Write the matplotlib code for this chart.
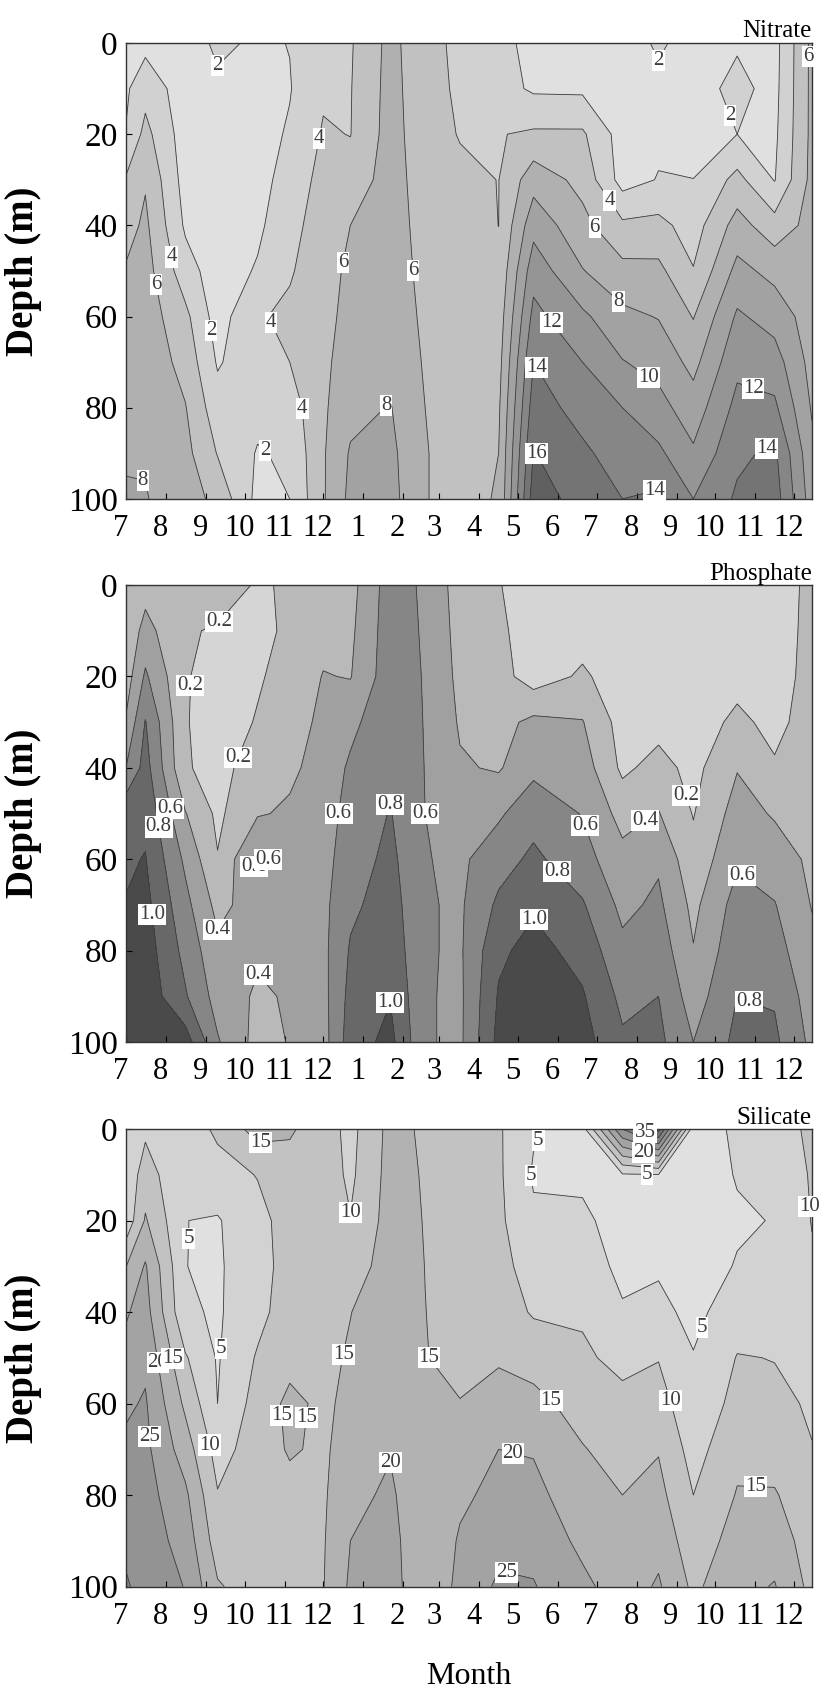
import numpy as np
import matplotlib
matplotlib.use("Agg")
import matplotlib.pyplot as plt
from matplotlib.transforms import ScaledTranslation

plt.rcParams['font.family'] = ['Liberation Serif', 'DejaVu Serif']

# ---- sampling grid (days since 1 July of first year; depth in m) ----
days = [0, 15, 46, 71, 102, 127, 153, 174, 205, 232, 259, 289, 316, 354, 385, 413, 440, 474, 503, 532]
depths = [0, 10, 20, 30, 40, 50, 60, 70, 80, 90, 100]

month_start_days = [0, 31, 62, 92, 123, 153, 184, 215, 243, 274, 304, 335, 365, 396, 427, 457, 488, 518]
month_labels = ['7', '8', '9', '10', '11', '12', '1', '2', '3', '4', '5', '6',
                '7', '8', '9', '10', '11', '12']
depth_ticks = [0, 20, 40, 60, 80, 100]

# ---- profiles (one list per sampling day, values at the depths above) ----
nitrate_profiles = [
    [1.2, 1.7, 2.1, 4.2, 5.2, 6.2, 6.6, 7.0, 7.4, 7.8, 8.2],
    [1.4, 3.3, 4.6, 5.8, 6.4, 6.8, 7.1, 7.4, 7.6, 7.85, 8.1],
    [0.9, 0.9, 1.0, 1.2, 1.7, 2.9, 4.5, 5.3, 6.1, 6.6, 7.0],
    [2.4, 1.6, 1.2, 1.0, 0.9, 0.9, 1.1, 1.8, 2.8, 3.9, 5.4],
    [1.7, 1.5, 1.3, 1.2, 1.6, 2.2, 3.8, 3.3, 2.6, 1.85, 1.44],
    [2.05, 1.9, 2.2, 2.9, 3.4, 3.8, 4.4, 4.0, 3.0, 2.3, 2.0],
    [3.4, 3.7, 4.2, 4.6, 4.9, 5.2, 5.4, 5.6, 5.7, 5.8, 5.8],
    [3.8, 3.9, 3.95, 4.8, 6.0, 6.4, 6.6, 6.9, 7.4, 8.2, 8.5],
    [6.6, 6.7, 6.8, 6.9, 7.0, 7.1, 7.3, 7.6, 8.1, 8.5, 8.7],
    [4.6, 4.7, 4.8, 5.0, 5.2, 5.4, 5.6, 5.8, 6.0, 6.1, 6.1],
    [3.6, 3.7, 3.9, 4.4, 4.7, 4.9, 5.0, 5.1, 5.1, 5.2, 5.2],
    [2.4, 2.8, 3.9, 3.97, 3.99, 4.4, 4.9, 5.3, 5.7, 6.0, 6.2],
    [1.6, 1.7, 4.3, 7.2, 9.3, 11.2, 12.6, 14.0, 15.0, 16.1, 17.0],
    [1.5, 1.63, 4.3, 5.4, 6.6, 8.1, 10.4, 12.0, 13.2, 14.4, 15.2],
    [1.0, 1.05, 1.1, 1.2, 4.4, 6.6, 8.5, 10.1, 12.0, 13.0, 14.0],
    [2.3, 1.5, 1.6, 2.1, 4.6, 6.5, 7.9, 9.3, 10.7, 12.4, 14.4],
    [1.2, 1.25, 1.3, 2.02, 3.1, 4.1, 5.9, 7.4, 8.9, 10.3, 12.0],
    [1.8, 2.5, 2.0, 4.6, 6.8, 8.6, 10.3, 11.5, 12.6, 13.6, 14.3],
    [1.3, 1.4, 1.6, 1.9, 4.8, 7.4, 9.2, 10.9, 12.4, 14.4, 15.0],
    [6.5, 6.5, 6.5, 6.6, 6.7, 6.8, 7.0, 7.3, 7.8, 8.5, 9.0],
]

phosphate_profiles = [
    [0.22, 0.25, 0.3, 0.42, 0.6, 0.95, 0.97, 1.01, 1.05, 1.1, 1.15],
    [0.32, 0.47, 0.63, 0.81, 0.88, 0.95, 1.01, 1.06, 1.1, 1.13, 1.15],
    [0.21, 0.21, 0.21, 0.21, 0.22, 0.41, 0.56, 0.66, 0.74, 0.82, 1.1],
    [0.25, 0.19, 0.15, 0.13, 0.13, 0.16, 0.21, 0.34, 0.45, 0.52, 0.62],
    [0.19, 0.17, 0.185, 0.21, 0.3, 0.38, 0.66, 0.5, 0.43, 0.37, 0.33],
    [0.21, 0.22, 0.25, 0.3, 0.36, 0.43, 0.48, 0.5, 0.45, 0.42, 0.41],
    [0.3, 0.33, 0.41, 0.45, 0.48, 0.51, 0.53, 0.55, 0.55, 0.54, 0.52],
    [0.33, 0.36, 0.39, 0.55, 0.63, 0.67, 0.71, 0.76, 0.82, 0.86, 0.9],
    [0.7, 0.71, 0.72, 0.74, 0.76, 0.81, 0.85, 0.89, 0.93, 0.99, 1.06],
    [0.565, 0.575, 0.585, 0.59, 0.595, 0.6, 0.61, 0.62, 0.62, 0.62, 0.62],
    [0.31, 0.33, 0.35, 0.38, 0.42, 0.5, 0.56, 0.57, 0.57, 0.56, 0.56],
    [0.21, 0.24, 0.28, 0.33, 0.38, 0.57, 0.72, 0.84, 0.96, 1.02, 1.06],
    [0.1, 0.1, 0.1, 0.45, 0.55, 0.73, 0.84, 0.97, 1.07, 1.12, 1.15],
    [0.1, 0.12, 0.23, 0.41, 0.5, 0.59, 0.68, 0.82, 0.93, 1.02, 1.08],
    [0.1, 0.1, 0.1, 0.12, 0.16, 0.33, 0.46, 0.55, 0.65, 0.75, 0.83],
    [0.1, 0.1, 0.11, 0.13, 0.27, 0.41, 0.57, 0.64, 0.72, 0.80, 0.85],
    [0.1, 0.1, 0.1, 0.11, 0.14, 0.19, 0.26, 0.35, 0.41, 0.5, 0.6],
    [0.1, 0.1, 0.14, 0.24, 0.39, 0.48, 0.57, 0.68, 0.74, 0.8, 0.85],
    [0.1, 0.1, 0.11, 0.15, 0.22, 0.38, 0.5, 0.61, 0.68, 0.78, 0.84],
    [0.25, 0.26, 0.27, 0.28, 0.3, 0.33, 0.36, 0.39, 0.45, 0.5, 0.55],
]

silicate_profiles = [
    [6.0, 6.2, 6.5, 14.9, 19.5, 21.5, 24.2, 26.0, 27.5, 29.0, 30.5],
    [9.0, 12.5, 15.5, 20.5, 22.0, 24.0, 25.5, 26.2, 27.0, 27.7, 28.3],
    [7.0, 5.1, 5.05, 5.05, 5.8, 10.5, 14.0, 17.5, 21.0, 23.0, 24.8],
    [11.0, 8.0, 4.6, 4.4, 4.4, 4.6, 5.0, 8.0, 10.3, 12.5, 15.5],
    [17.0, 10.2, 8.5, 8.0, 8.5, 10.5, 12.0, 12.5, 12.5, 12.5, 12.5],
    [15.6, 13.0, 12.0, 12.0, 12.5, 13.5, 16.2, 15.5, 13.5, 13.0, 13.0],
    [12.5, 12.8, 13.0, 13.2, 13.5, 13.8, 14.0, 14.2, 14.4, 14.6, 14.8],
    [8.5, 9.0, 10.2, 12.5, 14.9, 15.5, 16.3, 17.3, 18.4, 20.0, 20.8],
    [16.5, 16.8, 17.0, 17.3, 17.6, 18.0, 18.5, 19.6, 21.0, 22.0, 22.5],
    [14.3, 14.6, 14.8, 14.95, 15.05, 15.1, 15.1, 15.1, 15.1, 15.2, 15.2],
    [12.5, 12.8, 13.0, 13.2, 13.5, 14.2, 15.1, 16.8, 19.0, 20.6, 21.5],
    [10.6, 10.8, 11.0, 11.5, 12.5, 14.5, 16.8, 20.0, 21.5, 23.5, 25.8],
    [5.5, 4.5, 5.8, 8.0, 9.5, 13.0, 16.5, 19.6, 21.5, 23.5, 25.3],
    [3.0, 4.3, 5.7, 7.5, 9.3, 10.9, 13.0, 15.3, 16.8, 18.8, 21.2],
    [30.0, 4.5, 3.5, 3.8, 5.5, 8.5, 11.5, 13.0, 15.0, 16.5, 17.5],
    [42.0, 4.8, 3.5, 4.3, 6.5, 9.8, 12.0, 14.7, 16.5, 18.5, 20.6],
    [2.0, 2.3, 2.5, 2.8, 3.5, 5.3, 6.5, 8.0, 10.0, 12.0, 14.0],
    [6.0, 5.3, 4.4, 5.3, 8.0, 10.2, 11.5, 13.8, 15.3, 17.0, 18.5],
    [6.5, 5.5, 5.2, 5.8, 7.0, 9.9, 10.8, 12.5, 15.5, 17.8, 20.3],
    [11.5, 10.6, 10.2, 9.4, 9.0, 9.2, 9.6, 10.1, 11.0, 12.5, 13.5],
]

nitrate_levels = [0, 2, 4, 6, 8, 10, 12, 14, 16, 18]
phosphate_levels = [0.0, 0.2, 0.4, 0.6, 0.8, 1.0, 1.2]
silicate_levels = [0, 5, 10, 15, 20, 25, 30, 35, 40, 45]

nitrate_colors = ['#e0e0e0', '#d1d1d1', '#c1c1c1', '#b0b0b0', '#a2a2a2',
                  '#959595', '#868686', '#747474', '#606060']
phosphate_colors = ['#d5d5d5', '#b9b9b9', '#a0a0a0', '#868686', '#686868', '#4a4a4a']
silicate_colors = ['#e0e0e0', '#d2d2d2', '#c2c2c2', '#b2b2b2', '#a3a3a3',
                   '#939393', '#838383', '#707070', '#5e5e5e']

# label anchor positions (day, depth)
nitrate_label_pos = [(73, 6), (149, 21), (34, 47), (22, 53), (166, 48), (218, 50),
                     (65, 63), (107, 62), (141, 80), (112, 88), (199, 79), (13, 96),
                     (414, 6), (467, 16), (530, 3), (373, 35), (361, 41), (384, 56),
                     (331, 61), (319, 71), (404, 74), (486, 76), (318, 90), (495, 88),
                     (408, 96)]
phosphate_label_pos = [(77, 9), (47, 22), (90, 38), (34, 49), (24, 53), (94, 62),
                       (116, 60), (22, 72), (77, 77), (112, 83), (167, 50), (205, 44),
                       (234, 50), (205, 88), (353, 53), (337, 62), (317, 73), (401, 51),
                       (435, 46), (479, 63), (489, 87)]
silicate_label_pos = [(104, 2), (46, 24), (171, 20), (73, 48), (25, 51), (38, 50),
                      (165, 49), (233, 50), (108, 63), (137, 63), (24, 67), (66, 69),
                      (203, 70), (402, 1), (402, 4.5), (404, 9.5), (329, 3.6), (307, 10.5),
                      (530, 17), (444, 43), (334, 58), (426, 59), (300, 71), (489, 74),
                      (295, 97)]

panels = [
    ('Nitrate', nitrate_profiles, nitrate_levels, nitrate_colors, '%d',
     nitrate_label_pos, [0.1533, 0.7053, 0.8345, 0.2693]),
    ('Phosphate', phosphate_profiles, phosphate_levels, phosphate_colors, '%.1f',
     phosphate_label_pos, [0.1533, 0.3845, 0.8345, 0.2699]),
    ('Silicate', silicate_profiles, silicate_levels, silicate_colors, '%d',
     silicate_label_pos, [0.1533, 0.0629, 0.8345, 0.2702]),
]

fig = plt.figure(figsize=(8.22, 16.93), dpi=100)

for i, (name, profiles, levels, colors, fmt, lpos, rect) in enumerate(panels):
    ax = fig.add_axes(rect)
    Z = np.array(profiles).T
    ax.contourf(days, depths, Z, levels=levels, colors=colors)
    cs = ax.contour(days, depths, Z, levels=levels, colors='#3c3c3c', linewidths=0.6)
    texts = ax.clabel(cs, manual=lpos, inline=False, fmt=fmt, fontsize=15)
    for t in texts:
        t.set_rotation(0)
        t.set_bbox(dict(facecolor='white', edgecolor='none', pad=0.8))
        t.set_zorder(5)
        t.set_clip_on(False)
    ax.set_xlim(0, 532)
    ax.set_ylim(100, 0)
    ax.set_xticks(month_start_days)
    ax.set_xticklabels(month_labels)
    ax.set_yticks(depth_ticks)
    ax.tick_params(axis='x', direction='in', length=4, width=0.8, labelsize=22, pad=11,
                   top=False)
    ax.tick_params(axis='y', direction='in', length=4, width=0.8, labelsize=24, pad=6,
                   right=False)
    for lbl in ax.get_xticklabels():
        lbl.set_transform(lbl.get_transform() + ScaledTranslation(-4 / 72, 0, fig.dpi_scale_trans))
    for sp in ax.spines.values():
        sp.set_linewidth(1.0)
        sp.set_color('#333333')
    ax.set_ylabel('Depth (m)', fontsize=28, fontweight='bold')
    ax.yaxis.set_label_coords(-0.122, 0.5)
    ax.set_title(name, loc='right', fontsize=18, pad=4)
    if i == 2:
        ax.set_xlabel('Month', fontsize=23)
        ax.xaxis.set_label_coords(0.5, -0.165)

fig.savefig('out.png', dpi=100)
